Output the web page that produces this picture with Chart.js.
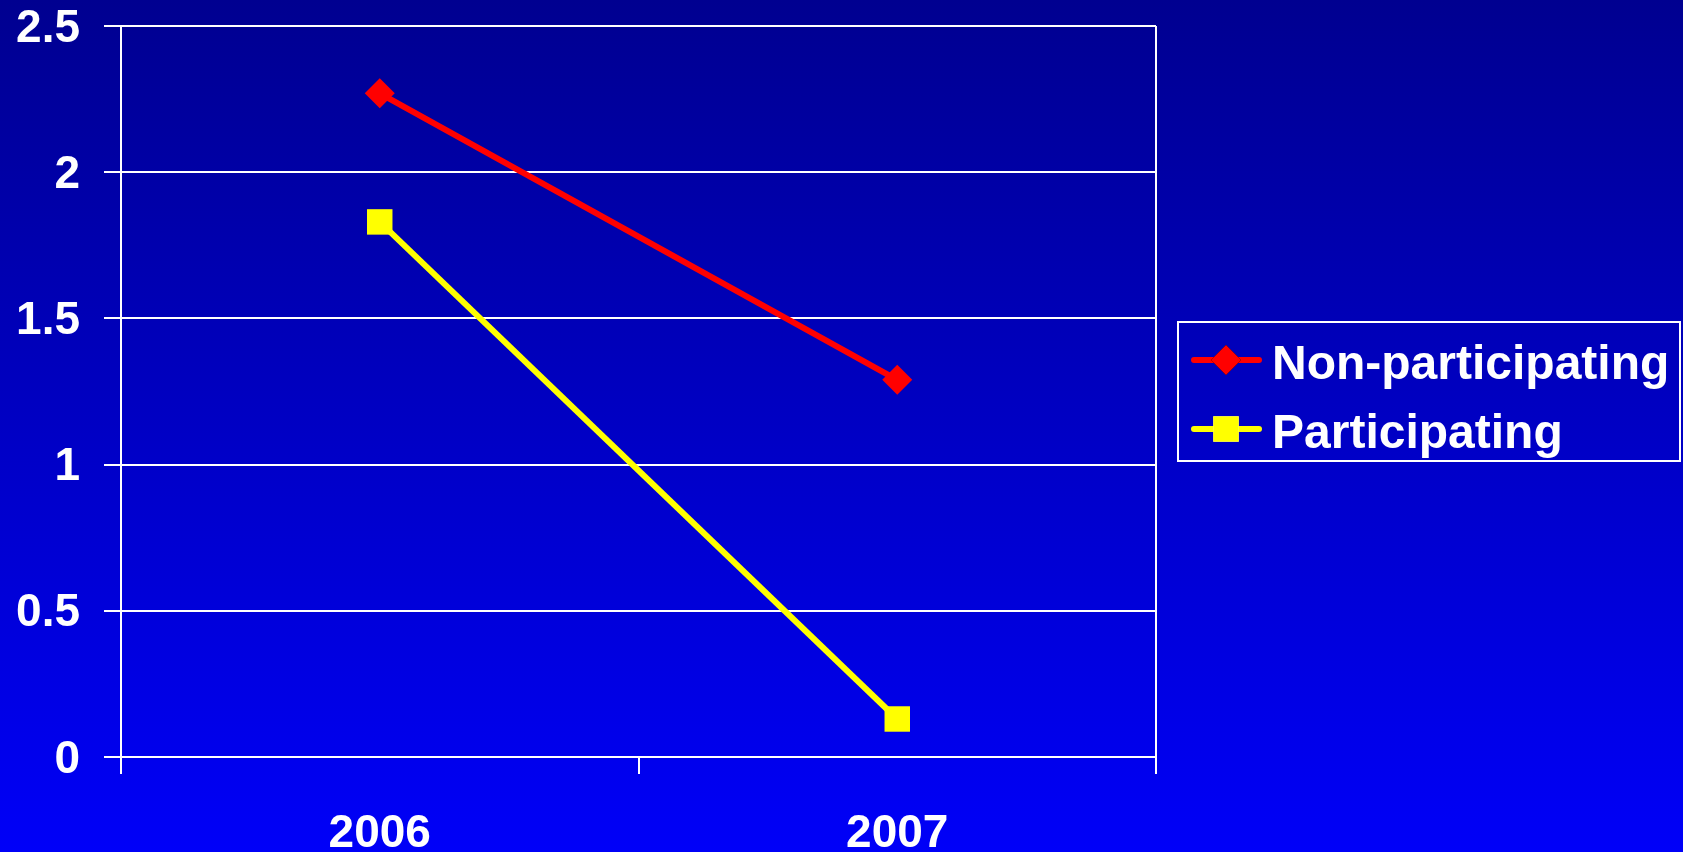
<!DOCTYPE html>
<html>
<head>
<meta charset="utf-8">
<script src="https://cdn.jsdelivr.net/npm/chart.js@4/dist/chart.umd.min.js"></script>
<style>
  html, body { margin: 0; padding: 0; width: 1683px; height: 852px; overflow: hidden;
    background: linear-gradient(to bottom, #000090 0%, #0000F8 100%); }
  #wrap { width: 1683px; height: 852px; position: relative; }
</style>
</head>
<body>
<div id="wrap"><canvas id="c" width="1683" height="852"></canvas></div>
<script>
const categories = ['2006', '2007'];
const nonParticipating = [2.27, 1.29];
const participating = [1.83, 0.13];
const seriesLabels = ['Non-participating', 'Participating'];
const yMin = 0, yMax = 2.5, yStep = 0.5;
const yTickLabels = ['0', '0.5', '1', '1.5', '2', '2.5'];

const FONT = '"Liberation Sans", Arial, sans-serif';

const legendPlugin = {
  id: 'boxLegend',
  afterDraw(chart) {
    const ctx = chart.ctx;
    const box = { x: 1178, y: 322, w: 502, h: 139 };
    ctx.save();
    ctx.strokeStyle = '#ffffff';
    ctx.lineWidth = 2;
    ctx.strokeRect(box.x, box.y, box.w, box.h);
    const rows = [360, 429];
    chart.data.datasets.forEach((ds, i) => {
      const y = rows[i];
      ctx.strokeStyle = ds.borderColor;
      ctx.lineWidth = 6;
      ctx.lineCap = 'round';
      ctx.beginPath();
      ctx.moveTo(1194, y);
      ctx.lineTo(1259, y);
      ctx.stroke();
      Chart.helpers.drawPoint(ctx, {
        pointStyle: ds.pointStyle,
        radius: ds.pointRadius,
        rotation: 0,
        borderWidth: 0
      }, 1226, y);
      ctx.fillStyle = ds.pointBackgroundColor;
      ctx.fill();
      ctx.fillStyle = '#ffffff';
      ctx.font = 'bold 48px ' + FONT;
      ctx.textAlign = 'left';
      ctx.textBaseline = 'middle';
      ctx.fillText(ds.label, 1272, y + 6);
    });
    ctx.restore();
  }
};

new Chart(document.getElementById('c'), {
  type: 'line',
  data: {
    labels: categories,
    datasets: [
      {
        label: seriesLabels[0],
        data: nonParticipating,
        borderColor: '#ff0000',
        backgroundColor: '#ff0000',
        pointBackgroundColor: '#ff0000',
        pointBorderColor: '#ff0000',
        pointBorderWidth: 0,
        borderWidth: 6,
        pointStyle: 'rectRot',
        pointRadius: 15,
        pointHoverRadius: 15,
        tension: 0
      },
      {
        label: seriesLabels[1],
        data: participating,
        borderColor: '#ffff00',
        backgroundColor: '#ffff00',
        pointBackgroundColor: '#ffff00',
        pointBorderColor: '#ffff00',
        pointBorderWidth: 0,
        borderWidth: 6,
        pointStyle: 'rect',
        pointRadius: 18,
        pointHoverRadius: 18,
        tension: 0
      }
    ]
  },
  options: {
    responsive: false,
    animation: false,
    devicePixelRatio: 1,
    layout: { autoPadding: false, padding: { top: 0, right: 527, left: 0, bottom: 0 } },
    plugins: { legend: { display: false }, tooltip: { enabled: false } },
    scales: {
      x: {
        offset: true,
        grid: {
          offset: true,
          display: true,
          color: (c) => (c.index === 1 ? 'rgba(0,0,0,0)' : '#ffffff'),
          tickColor: '#ffffff',
          lineWidth: 2,
          tickWidth: 2,
          drawTicks: true,
          tickLength: 17
        },
        border: { display: true, color: '#ffffff', width: 2 },
        ticks: {
          color: '#ffffff',
          font: { family: FONT, size: 46, weight: 'bold' },
          padding: 33,
          maxRotation: 0
        },
        afterFit(s) { s.height = 852 - 757; s.paddingLeft = 0; s.paddingRight = 0; }
      },
      y: {
        min: yMin,
        max: yMax,
        grid: {
          color: '#ffffff',
          tickColor: '#ffffff',
          lineWidth: 2,
          tickLength: 17,
          drawTicks: true
        },
        border: { display: true, color: '#ffffff', width: 2 },
        ticks: {
          stepSize: yStep,
          color: '#ffffff',
          font: { family: FONT, size: 46, weight: 'bold' },
          padding: 24,
          labelOffset: 3,
          callback: (v, i) => yTickLabels[i]
        },
        afterFit(s) { s.width = 121; s.paddingTop = 26; s.paddingBottom = 0; }
      }
    }
  },
  plugins: [legendPlugin]
});
</script>
</body>
</html>
